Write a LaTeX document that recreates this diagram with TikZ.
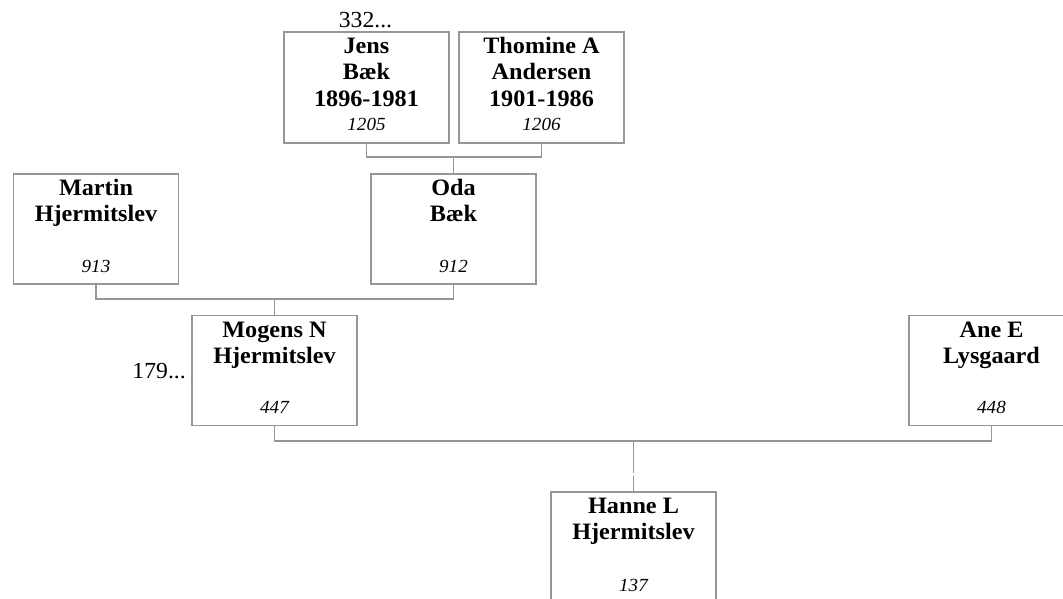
\documentclass[tikz,border=0pt]{standalone}
\usepackage{fontspec}
\setmainfont{Liberation Serif}[FakeStretch=1.03]
\definecolor{linegray}{RGB}{150,150,150}
\begin{document}
\begin{tikzpicture}[x=1pt,y=-1pt,
  person/.style={draw=linegray,line width=1.3pt,minimum width=165pt,minimum height=110pt,inner sep=0pt},
  namelines/.style={anchor=base,align=center,inner sep=0pt,font=\fontsize{23.5}{26.5}\selectfont\bfseries},
  idnum/.style={anchor=base,inner sep=0pt,font=\fontsize{18.5}{22}\selectfont\itshape},
  more/.style={anchor=base,inner sep=0pt,font=\fontsize{23}{26}\selectfont},
  link/.style={draw=linegray,line width=1.3pt}]
\useasboundingbox (0,0) rectangle (1063,598);
\begin{scope}
\clip (0,0) rectangle (1063,598);
% boxes
\node[person,minimum height=111pt] (jens) at (366.5,87.5) {};
\node[person,minimum height=111pt] (thomine) at (541.5,87.5) {};
\node[person] (martin) at (96,229) {};
\node[person] (oda) at (453.5,229) {};
\node[person] (mogens) at (274.5,370.5) {};
\node[person] (ane) at (991.5,370.5) {};
\node[person] (hanne) at (633.5,547) {};
% texts (anchor base = baseline of last line)
\node[namelines] (jensn) at (366.5,106) {Jens\\Bæk\\1896-1981};
\node[idnum] (jensi) at (366.5,130) {1205};
\node[namelines] (thominen) at (541.5,106) {Thomine A\\Andersen\\1901-1986};
\node[idnum] (thominei) at (541.5,130) {1206};
\node[namelines] (martinn) at (96,221.5) {Martin\\Hjermitslev};
\node[idnum] (martini) at (96,272) {913};
\node[namelines] (odan) at (453.5,221.5) {Oda\\Bæk};
\node[idnum] (odai) at (453.5,272) {912};
\node[namelines] (mogensn) at (274.5,363.5) {Mogens N\\Hjermitslev};
\node[idnum] (mogensi) at (274.5,413) {447};
\node[namelines] (anen) at (991.5,363.5) {Ane E\\Lysgaard};
\node[idnum] (anei) at (991.5,413) {448};
\node[namelines] (hannen) at (633.5,539.5) {Hanne L\\Hjermitslev};
\node[idnum] (hannei) at (633.5,591) {137};
\node[more] (jensmore) at (365.5,27) {332...};
\node[more,anchor=base east] (mogensmore) at (186,378) {179...};
% connectors
\coordinate (j1) at (453.5,157);
\coordinate (j2) at (274.5,299);
\coordinate (j3) at (633.5,441);
\coordinate (g1) at (633.5,473);
\coordinate (g2) at (633.5,475.5);
\draw[link] (jens.south) |- (j1) -| (thomine.south);
\draw[link] (j1) -- (oda.north);
\draw[link] (martin.south) |- (j2) -| (oda.south);
\draw[link] (j2) -- (mogens.north);
\draw[link] (mogens.south) |- (j3) -| (ane.south);
\draw[link] (j3) -- (g1) (g2) -- (hanne.north);
\end{scope}
\end{tikzpicture}
\end{document}
